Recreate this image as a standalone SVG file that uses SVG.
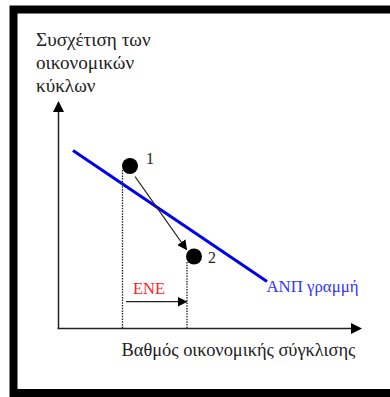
<svg xmlns="http://www.w3.org/2000/svg" width="390" height="397" viewBox="0 0 390 397">
<style>
text{font-family:"Liberation Serif","DejaVu Serif",serif;}
.t{fill:#222;}
.ax{stroke:#222;stroke-width:1.5;fill:none;}
.dot{stroke:#222;stroke-width:1.3;stroke-dasharray:1.5 1.2;fill:none;}
.pt{fill:#000;}
</style>
<defs>
<marker id="ah" markerWidth="10" markerHeight="10" refX="9" refY="5" orient="auto" markerUnits="userSpaceOnUse">
<path d="M0,0 L10,5 L0,10 Z" fill="#000"/>
</marker>
</defs>
<rect width="390" height="397" fill="#fff"/>
<g id="frame">
<path d="M13.5,397 V9.5 H390" fill="none" stroke="#000" stroke-width="8"/>
<rect x="10" y="389" width="380" height="8" fill="#000"/>
</g>
<g id="axes">
<line class="ax" x1="58.5" y1="328.5" x2="58.5" y2="111"/>
<path d="M58.5,101 L53,112 L64,112 Z" fill="#000"/>
<line class="ax" x1="57.5" y1="328.5" x2="352" y2="328.5"/>
<path d="M362,328.5 L351,323 L351,334 Z" fill="#000"/>
</g>
<text id="ylabel" class="t" font-size="19.2"><tspan x="36" y="46">Συσχέτιση των</tspan><tspan x="36" y="68.5">οικονομικών</tspan><tspan x="36" y="91.5">κύκλων</tspan></text>
<text id="xlabel" class="t" font-size="18.4" x="121.5" y="355.7">Βαθμός οικονομικής σύγκλισης</text>
<g id="anp-line">
<line x1="73" y1="150.5" x2="267" y2="281.5" stroke="#0000ee" stroke-width="3"/>
<text x="266.5" y="292" font-size="16.8" fill="#3333ff">ΑΝΠ γραμμή</text>
</g>
<g id="connectors">
<line class="dot" x1="122.5" y1="170" x2="122.5" y2="328"/>
<line class="dot" x1="187" y1="262" x2="187" y2="328"/>
<line x1="135" y1="176.5" x2="186.5" y2="249.5" stroke="#222" stroke-width="1.3" marker-end="url(#ah)"/>
<line x1="126" y1="301.7" x2="186.5" y2="301.7" stroke="#222" stroke-width="1.3" marker-end="url(#ah)"/>
</g>
<g id="point1">
<circle class="pt" cx="130" cy="166" r="8"/>
<text x="146" y="164" font-size="16" fill="#222">1</text>
</g>
<g id="point2">
<circle class="pt" cx="194" cy="256.5" r="8"/>
<text x="208" y="262.5" font-size="16" fill="#222">2</text>
</g>
<g id="ene">
<text x="133" y="293.5" font-size="16.5" fill="#ff2222">ΕΝΕ</text>
</g>
</svg>
